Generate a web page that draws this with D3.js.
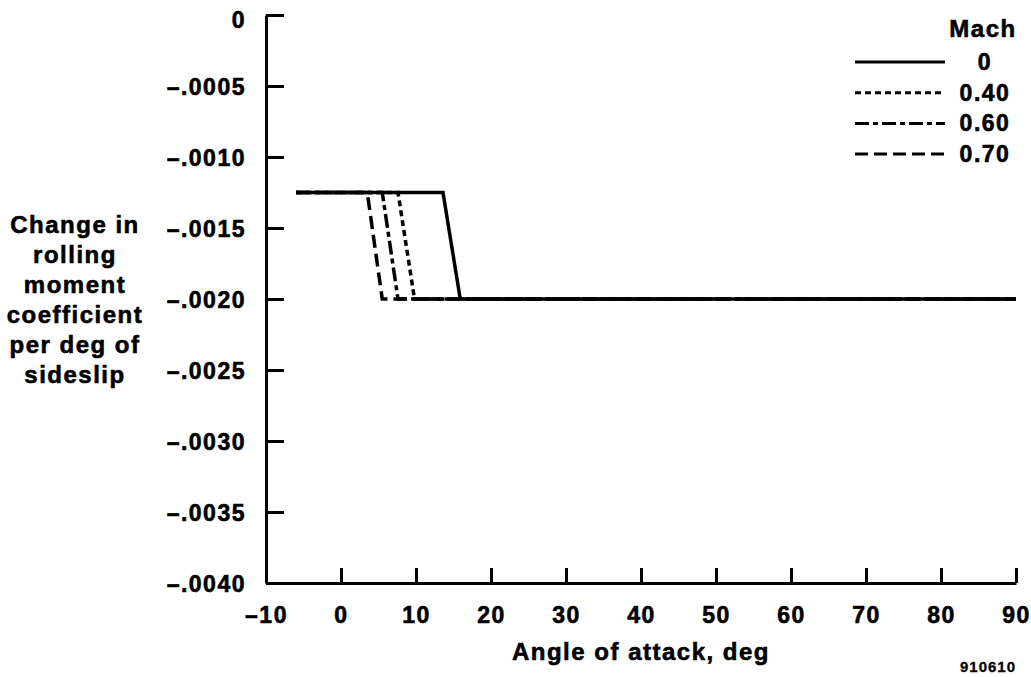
<!DOCTYPE html>
<html>
<head>
<meta charset="utf-8">
<script src="https://cdn.jsdelivr.net/npm/d3@7"></script>
<style>
  body { margin: 0; background: #fff; }
  text { font-family: "Liberation Sans", Arial, sans-serif; font-weight: bold; fill: #000; stroke: #000; stroke-width: 0.6px; }
</style>
</head>
<body>
<svg id="chart" width="1031" height="677"></svg>
<script>
// Change in rolling moment coefficient vs angle of attack, per Mach number

var machLabels = ["0.70", "0.60", "0.40", "0"];
var alpha070 = [-6, 3.5, 5.5, 90];
var alpha060 = [-6, 5.5, 7.6, 90];
var alpha040 = [-6, 7.6, 9.8, 90];
var alpha000 = [-6, 13.6, 15.9, 90];
var dCl070 = [-0.00125, -0.00125, -0.0020, -0.0020];
var dCl060 = [-0.00125, -0.00125, -0.0020, -0.0020];
var dCl040 = [-0.00125, -0.00125, -0.0020, -0.0020];
var dCl000 = [-0.00125, -0.00125, -0.0020, -0.0020];

var xTicks = [-10, 0, 10, 20, 30, 40, 50, 60, 70, 80, 90];
var yTicks = [0, -0.0005, -0.0010, -0.0015, -0.0020, -0.0025, -0.0030, -0.0035, -0.0040];
var yTitle = ["Change in", "rolling", "moment", "coefficient", "per deg of", "sideslip"];

var dashes = ["13,6", "14,4,5,4", "6,4", null];

var svg = d3.select("#chart");
var x = d3.scaleLinear().domain([-10, 90]).range([266, 1016]);
var y = d3.scaleLinear().domain([-0.004, 0]).range([583, 15]);

var dash = "\u2013";
var yFmt = function (d) {
    if (d === 0) return "0";
    return dash + d3.format(".4f")(-d).slice(1);
};
var xFmt = function (d) { return d < 0 ? dash + (-d) : "" + d; };

// y axis, ticks pointing inward
var gy = svg.append("g")
    .attr("transform", "translate(" + x(-10) + ",0)")
    .call(d3.axisLeft(y).tickValues(yTicks).tickFormat(yFmt)
        .tickSizeInner(-18).tickSizeOuter(0).tickPadding(20));

// x axis, ticks pointing up
var gx = svg.append("g")
    .attr("transform", "translate(0," + y(-0.004) + ")")
    .call(d3.axisBottom(x).tickValues(xTicks).tickFormat(xFmt)
        .tickSizeInner(-15).tickSizeOuter(0).tickPadding(24));

[gx, gy].forEach(function (g) {
    g.select(".domain").attr("stroke", "#000").attr("stroke-width", 3);
    g.selectAll(".tick line").attr("stroke", "#000").attr("stroke-width", 3);
    g.selectAll(".tick text")
        .style("font-size", "23px")
        .style("letter-spacing", "1.5px")
        .attr("fill", "#000");
});
gy.selectAll(".tick text").attr("dy", "0.38em");
gy.selectAll(".tick text").filter(function (d) { return d === 0; }).attr("dy", "0.55em");

// series
var series = [
    {alpha: alpha070, cl: dCl070},
    {alpha: alpha060, cl: dCl060},
    {alpha: alpha040, cl: dCl040},
    {alpha: alpha000, cl: dCl000}
];

var line = d3.line()
    .x(function (d) { return x(d[0]); })
    .y(function (d) { return y(d[1]); });

series.forEach(function (s, i) {
    var pts = s.alpha.map(function (a, j) { return [a, s.cl[j]]; });
    svg.append("path")
        .attr("d", line(pts))
        .attr("fill", "none")
        .attr("stroke", "#000")
        .attr("stroke-width", 3.5)
        .attr("stroke-dasharray", dashes[i]);
});

// legend
var legend = svg.append("g");
legend.append("text")
    .attr("x", 983).attr("y", 37)
    .attr("text-anchor", "middle")
    .style("font-size", "24px")
    .style("letter-spacing", "1.5px")
    .text("Mach");

var legendOrder = [3, 2, 1, 0];
legendOrder.forEach(function (k, r) {
    var ly = 62 + r * 30.7;
    legend.append("line")
        .attr("x1", 855).attr("x2", 945)
        .attr("y1", ly).attr("y2", ly)
        .attr("stroke", "#000")
        .attr("stroke-width", 3)
        .attr("stroke-dasharray", dashes[k]);
    legend.append("text")
        .attr("x", 985).attr("y", ly + 8)
        .attr("text-anchor", "middle")
        .style("font-size", "23px")
        .style("letter-spacing", "1.5px")
        .text(machLabels[k]);
});

// titles
svg.append("text")
    .attr("x", 641).attr("y", 660)
    .attr("text-anchor", "middle")
    .style("font-size", "24px")
    .style("letter-spacing", "1.5px")
    .text("Angle of attack, deg");

svg.append("g").selectAll("text")
    .data(yTitle)
    .join("text")
    .attr("x", 75)
    .attr("y", function (d, i) { return 233 + i * 30; })
    .attr("text-anchor", "middle")
    .style("font-size", "24px")
    .style("letter-spacing", "1.5px")
    .text(function (d) { return d; });

svg.append("text")
    .attr("x", 988).attr("y", 672)
    .attr("text-anchor", "middle")
    .style("font-size", "15px")
    .style("letter-spacing", "1px")
    .style("stroke-width", "0.3px")
    .text("910610");
</script>
</body>
</html>
